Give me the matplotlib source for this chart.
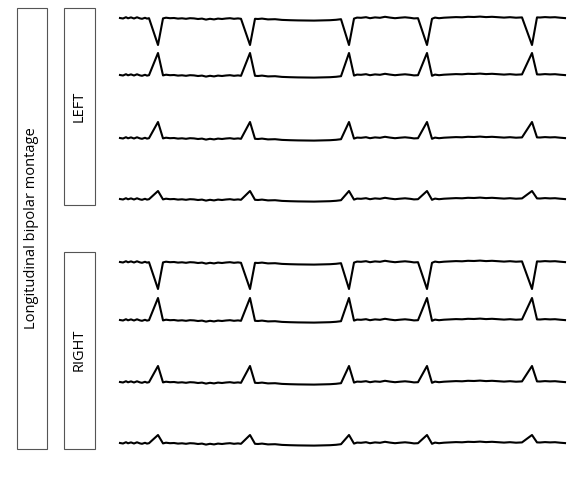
import matplotlib
matplotlib.use("Agg")
import matplotlib.pyplot as plt
from matplotlib.patches import Rectangle

plt.rcParams["font.family"] = ["Open Sans", "DejaVu Sans"]

# shared waveform template: x offset (px from trace start), baseline wobble (px, down +), spike weight
tmpl_x = [0, 3, 6, 8, 11, 14, 17, 20, 22, 25, 27, 29,
          38, 43, 46, 50, 54, 58, 62, 66, 70, 74, 78, 82, 86, 90, 94, 98, 102, 106, 110, 114, 118, 121,
          130, 135, 138, 142, 148, 155, 162, 170, 178, 186, 194, 202, 210, 216, 221,
          229, 234, 237, 241, 246, 250, 255, 260, 265, 270, 275, 280, 285, 290, 294, 298,
          307, 312, 315, 319, 324, 330, 336, 342, 348, 354, 360, 366, 372, 378, 384, 390, 396, 402,
          412, 417, 420, 425, 430, 435, 440, 445]
tmpl_base = [0, 0.5, -0.8, 0.3, -0.6, 0.5, -0.7, 0.4, 0.8, -0.2, 0.6, 0.2,
             0, 0.4, -0.3, 0.2, 0.0, 0.6, 0.3, 0.8, 0.2, 0.4, 1.0, 0.6, 1.6, 0.8, 1.4, 0.6, 1.0, 0.5, 0.2, 0.8, 0.4, 0.8,
             0, 0.8, 1.0, 0.6, 1.4, 1.2, 1.9, 2.2, 2.4, 2.5, 2.6, 2.4, 2.2, 1.8, 1.2,
             0, 0.6, -0.4, -0.2, -0.8, 0.2, -0.6, -0.2, -1.2, -0.4, 0.2, -0.3, -0.7, -0.2, 0.4, 0.2,
             0, 0.8, -0.4, 0.2, -0.3, -0.6, -0.9, -0.7, -1.2, -1.0, -1.4, -0.9, -1.2, -0.8, -0.4, -0.8, -0.3, -0.6,
             0, -0.6, -0.5, -0.9, -0.6, -0.8, -0.3, 0.1]
tmpl_spike = [0, 0, 0, 0, 0, 0, 0, 0, 0, 0, 0, 0,
              1, 0, 0, 0, 0, 0, 0, 0, 0, 0, 0, 0, 0, 0, 0, 0, 0, 0, 0, 0, 0, 0,
              1, 0, 0, 0, 0, 0, 0, 0, 0, 0, 0, 0, 0, 0, 0,
              1, 0, 0, 0, 0, 0, 0, 0, 0, 0, 0, 0, 0, 0, 0, 0,
              1, 0, 0, 0, 0, 0, 0, 0, 0, 0, 0, 0, 0, 0, 0, 0, 0, 0,
              1, 0, 0, 0, 0, 0, 0, 0]

# channel baselines (px) and spike amplitudes (px, negative = upward)
left_y = [18, 75, 138, 199]
right_y = [262, 320, 382, 443]
amps = [27, -22, -16, -8]

fig = plt.figure(figsize=(5.79, 4.79), dpi=100)
ax = fig.add_axes([0, 0, 1, 1])
ax.set_xlim(0, 579)
ax.set_ylim(479, 0)
ax.axis("off")

for (x0, y0, w, h) in [(17, 8, 30, 441), (64, 8, 31, 197), (64, 252, 31, 197)]:
    ax.add_patch(Rectangle((x0, y0), w, h, fill=False, edgecolor="#555555", linewidth=0.8))
ax.text(32, 228, "Longitudinal bipolar montage", rotation=90, ha="center", va="center", fontsize=10.5)
ax.text(79, 106, "LEFT", rotation=90, ha="center", va="center", fontsize=10.5)
ax.text(79, 350, "RIGHT", rotation=90, ha="center", va="center", fontsize=10.5)

for y_list in (left_y, right_y):
    for yb, a in zip(y_list, amps):
        xs = [120 + t for t in tmpl_x]
        ys = [yb + b + a * s for b, s in zip(tmpl_base, tmpl_spike)]
        ax.plot(xs, ys, color="black", linewidth=1.5)

fig.savefig("out.png", dpi=100)
